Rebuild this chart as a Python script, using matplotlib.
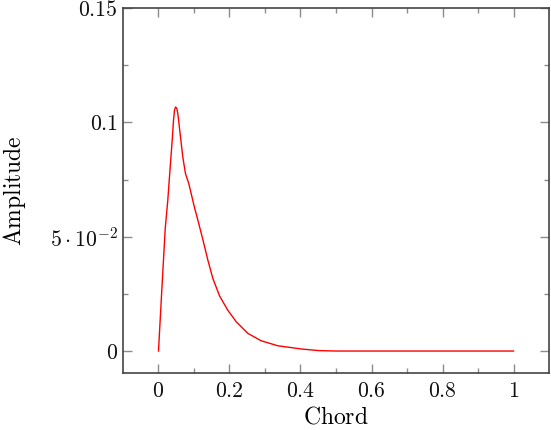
import numpy as np
import matplotlib.pyplot as plt
from matplotlib.ticker import FixedLocator, FuncFormatter

plt.rcParams['mathtext.fontset'] = 'cm'

# values
chord = [0.0, 0.0096, 0.019, 0.0262, 0.033, 0.0386, 0.0423, 0.045, 0.048,
         0.0515, 0.0545, 0.061, 0.0685, 0.076, 0.0854, 0.101, 0.111, 0.125,
         0.139, 0.153, 0.172, 0.195, 0.219, 0.252, 0.289, 0.336, 0.402, 0.45,
         0.5, 0.6, 0.7, 0.8, 0.9, 1.0]
amplitude = [0.0, 0.0274, 0.0536, 0.0659, 0.0805, 0.0921, 0.1009, 0.1052, 0.1067,
             0.1062, 0.1038, 0.095, 0.0848, 0.0776, 0.0732, 0.063, 0.0572, 0.0487,
             0.0398, 0.0318, 0.0241, 0.0179, 0.0128, 0.0077, 0.0045, 0.0023, 0.0009, 0.0002,
             0.0, 0.0, 0.0, 0.0, 0.0, 0.0]

xticks = [0, 0.2, 0.4, 0.6, 0.8, 1.0]
yticks = [0, 0.05, 0.1, 0.15]
ytick_labels = {0: r'$0$', 0.05: r'$5\cdot10^{-2}$', 0.1: r'$0.1$', 0.15: r'$0.15$'}

fig = plt.figure(figsize=(5.51, 4.30), dpi=100)
ax = fig.add_axes([0.2232, 0.1326, 0.7732, 0.8488])

ax.plot(chord, amplitude, color='#ff0000', linewidth=1.0)

ax.set_xlim(-0.1, 1.1)
ax.set_ylim(-0.0096, 0.15)

ax.xaxis.set_major_locator(FixedLocator(xticks))
ax.xaxis.set_minor_locator(FixedLocator([0.1, 0.3, 0.5, 0.7, 0.9]))
ax.yaxis.set_major_locator(FixedLocator(yticks))
ax.yaxis.set_minor_locator(FixedLocator([0.025, 0.075, 0.125]))
ax.xaxis.set_major_formatter(FuncFormatter(lambda v, p: r'$%g$' % v))
ax.yaxis.set_major_formatter(FuncFormatter(lambda v, p: ytick_labels.get(round(v, 3), '')))

ax.tick_params(which='both', direction='in', top=True, right=True,
               color='#8c8c8c', width=1.0, labelsize=15.7, labelcolor='#111111')
ax.tick_params(which='major', length=6.5)
ax.tick_params(which='minor', length=3.6)
ax.tick_params(axis='x', pad=6)
ax.tick_params(axis='y', pad=3.5)

for s in ax.spines.values():
    s.set_color('#444444')
    s.set_linewidth(1.2)

ax.set_xlabel(r'$\mathrm{Chord}$', fontsize=17, labelpad=2)
ax.set_ylabel(r'$\mathrm{Amplitude}$', fontsize=17, labelpad=16)

fig.savefig('out.png', dpi=100)
